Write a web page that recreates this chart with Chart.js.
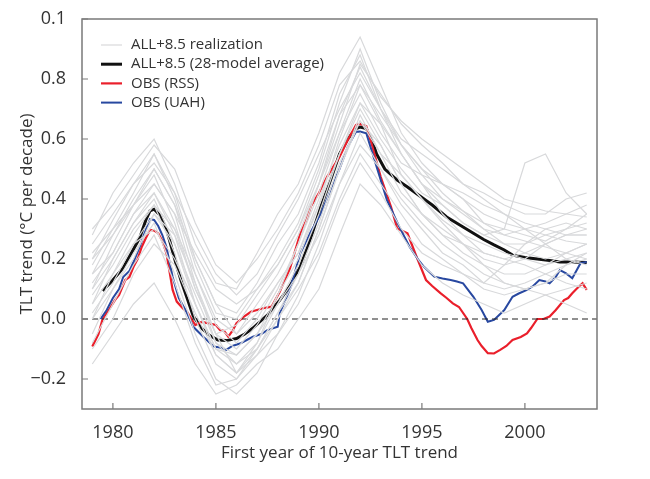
<!DOCTYPE html>
<html>
<head>
<meta charset="utf-8">
<script src="https://cdn.jsdelivr.net/npm/chart.js@4.4.1/dist/chart.umd.min.js"></script>
<style>
  html, body { margin: 0; padding: 0; background: #fff; }
  #wrap { width: 650px; height: 479px; }
</style>
</head>
<body>
<div id="wrap"><canvas id="chart-1" width="650" height="479"></canvas></div>
<script>
// Tick values and the labels printed beside them
const xTicks = [1980, 1985, 1990, 1995, 2000];
const yTicks = [-0.2, 0.0, 0.2, 0.4, 0.6, 0.8, 1.0];
const yTickLabels = ["\u22120.2", "0.0", "0.2", "0.4", "0.6", "0.8", "0.1"];

// ALL+8.5 28-model average
const avgYears = [1979.5, 1980.0, 1980.5, 1980.9, 1981.3, 1981.6, 1981.8, 1982.0, 1982.3, 1982.6, 1982.8, 1983.0, 1983.3, 1983.6, 1983.9, 1984.3, 1984.7, 1985.1, 1985.5, 1986.0, 1986.4, 1986.8, 1987.2, 1987.5, 1988.1, 1988.6, 1989.1, 1989.6, 1990.1, 1990.6, 1991.0, 1991.4, 1991.8, 1992.0, 1992.3, 1992.6, 1992.8, 1993.2, 1993.8, 1994.3, 1994.9, 1995.5, 1996.2, 1996.8, 1997.5, 1998.0, 1998.5, 1999.0, 1999.4, 2000.0, 2000.7, 2001.2, 2001.7, 2002.3, 2003.0];
const avgValues = [0.094, 0.13, 0.17, 0.22, 0.27, 0.33, 0.36, 0.366, 0.345, 0.30, 0.25, 0.20, 0.13, 0.07, 0.01, -0.03, -0.055, -0.07, -0.072, -0.065, -0.05, -0.03, -0.005, 0.013, 0.063, 0.11, 0.174, 0.27, 0.374, 0.47, 0.55, 0.60, 0.635, 0.64, 0.635, 0.59, 0.55, 0.50, 0.463, 0.44, 0.41, 0.38, 0.34, 0.315, 0.286, 0.265, 0.247, 0.23, 0.213, 0.205, 0.199, 0.195, 0.19, 0.19, 0.188];

// OBS (RSS)
const rssYears = [1979.0, 1979.3, 1979.5, 1979.8, 1980.1, 1980.3, 1980.6, 1980.8, 1981.0, 1981.2, 1981.4, 1981.6, 1981.8, 1982.0, 1982.2, 1982.4, 1982.6, 1982.9, 1983.1, 1983.4, 1983.6, 1984.0, 1984.3, 1984.6, 1985.0, 1985.2, 1985.4, 1985.6, 1985.8, 1986.0, 1986.4, 1986.7, 1987.0, 1987.3, 1987.7, 1988.1, 1988.6, 1989.1, 1989.4, 1989.6, 1990.0, 1990.4, 1990.7, 1991.0, 1991.4, 1991.8, 1992.0, 1992.3, 1992.6, 1993.0, 1993.5, 1993.8, 1994.3, 1994.5, 1994.8, 1995.2, 1995.5, 1995.9, 1996.2, 1996.5, 1996.8, 1997.2, 1997.4, 1997.7, 1997.9, 1998.2, 1998.5, 1998.8, 1999.1, 1999.4, 1999.8, 2000.1, 2000.3, 2000.6, 2000.9, 2001.2, 2001.5, 2001.9, 2002.1, 2002.3, 2002.5, 2002.8, 2003.0];
const rssValues = [-0.092, -0.05, 0.0, 0.03, 0.063, 0.08, 0.13, 0.14, 0.174, 0.20, 0.24, 0.27, 0.297, 0.295, 0.286, 0.26, 0.219, 0.097, 0.058, 0.035, 0.024, -0.02, -0.01, -0.014, -0.02, -0.037, -0.04, -0.059, -0.04, -0.014, 0.01, 0.024, 0.03, 0.036, 0.041, 0.091, 0.17, 0.286, 0.33, 0.374, 0.42, 0.474, 0.508, 0.54, 0.597, 0.647, 0.65, 0.643, 0.574, 0.474, 0.374, 0.302, 0.286, 0.25, 0.197, 0.13, 0.11, 0.086, 0.07, 0.052, 0.04, 0.0, -0.03, -0.07, -0.09, -0.114, -0.115, -0.103, -0.09, -0.07, -0.06, -0.048, -0.03, 0.0, 0.0, 0.008, 0.03, 0.063, 0.07, 0.086, 0.10, 0.119, 0.097];

// OBS (UAH)
const uahYears = [1979.4, 1979.7, 1980.0, 1980.3, 1980.5, 1980.8, 1981.0, 1981.3, 1981.5, 1981.8, 1982.0, 1982.2, 1982.4, 1982.6, 1982.9, 1983.2, 1983.6, 1983.9, 1984.4, 1984.9, 1985.2, 1985.5, 1985.8, 1986.2, 1986.5, 1986.8, 1987.2, 1987.5, 1988.0, 1988.1, 1988.6, 1989.1, 1989.6, 1990.1, 1990.7, 1991.0, 1991.4, 1991.8, 1992.0, 1992.3, 1992.8, 1993.3, 1993.9, 1994.4, 1994.8, 1995.1, 1995.6, 1996.0, 1996.4, 1996.7, 1997.0, 1997.5, 1997.9, 1998.2, 1998.5, 1998.7, 1999.0, 1999.4, 1999.7, 2000.1, 2000.4, 2000.7, 2001.0, 2001.2, 2001.5, 2001.7, 2002.0, 2002.3, 2002.7, 2003.0];
const uahValues = [0.0, 0.03, 0.07, 0.10, 0.14, 0.16, 0.19, 0.24, 0.28, 0.333, 0.33, 0.31, 0.28, 0.24, 0.14, 0.07, 0.02, -0.026, -0.06, -0.092, -0.095, -0.103, -0.09, -0.081, -0.07, -0.059, -0.05, -0.037, -0.026, 0.019, 0.10, 0.219, 0.29, 0.352, 0.452, 0.50, 0.574, 0.624, 0.625, 0.619, 0.508, 0.397, 0.308, 0.241, 0.20, 0.174, 0.141, 0.135, 0.13, 0.125, 0.119, 0.074, 0.03, -0.009, -0.003, 0.01, 0.03, 0.074, 0.085, 0.097, 0.11, 0.13, 0.125, 0.119, 0.14, 0.163, 0.152, 0.136, 0.186, 0.19];

// ALL+8.5 individual realizations (yearly)
const realizationYears = [1979, 1980, 1981, 1982, 1983, 1984, 1985, 1986, 1987, 1988, 1989, 1990, 1991, 1992, 1993, 1994, 1995, 1996, 1997, 1998, 1999, 2000, 2001, 2002, 2003];
const realizations = [
  [0.28, 0.42, 0.52, 0.60, 0.45, 0.25, 0.12, 0.10, 0.22, 0.35, 0.45, 0.62, 0.82, 0.94, 0.78, 0.62, 0.52, 0.45, 0.40, 0.35, 0.32, 0.30, 0.28, 0.26, 0.25],
  [0.20, 0.33, 0.45, 0.55, 0.40, 0.18, 0.02, 0.00, 0.10, 0.20, 0.32, 0.50, 0.72, 0.90, 0.72, 0.58, 0.50, 0.42, 0.36, 0.30, 0.28, 0.30, 0.32, 0.35, 0.38],
  [0.10, 0.25, 0.38, 0.48, 0.32, 0.10, -0.05, -0.10, -0.02, 0.10, 0.25, 0.42, 0.62, 0.80, 0.66, 0.55, 0.45, 0.40, 0.35, 0.30, 0.25, 0.22, 0.20, 0.22, 0.25],
  [0.05, 0.20, 0.32, 0.42, 0.28, 0.05, -0.10, -0.15, -0.08, 0.05, 0.18, 0.35, 0.55, 0.72, 0.60, 0.50, 0.42, 0.38, 0.32, 0.28, 0.30, 0.52, 0.55, 0.42, 0.35],
  [0.00, 0.15, 0.28, 0.38, 0.22, 0.00, -0.15, -0.20, -0.12, 0.00, 0.12, 0.30, 0.50, 0.68, 0.55, 0.42, 0.35, 0.28, 0.22, 0.18, 0.15, 0.15, 0.18, 0.20, 0.22],
  [-0.05, 0.10, 0.22, 0.32, 0.15, -0.05, -0.20, -0.25, -0.18, -0.05, 0.08, 0.25, 0.45, 0.62, 0.50, 0.38, 0.30, 0.22, 0.18, 0.12, 0.10, 0.12, 0.15, 0.18, 0.20],
  [-0.15, -0.05, 0.05, 0.12, 0.00, -0.15, -0.25, -0.22, -0.15, -0.10, 0.00, 0.10, 0.28, 0.45, 0.38, 0.28, 0.18, 0.12, 0.08, 0.05, 0.02, 0.05, 0.08, 0.05, 0.02],
  [0.15, 0.28, 0.40, 0.50, 0.38, 0.15, 0.00, -0.05, 0.05, 0.15, 0.28, 0.45, 0.65, 0.85, 0.75, 0.65, 0.58, 0.52, 0.45, 0.40, 0.35, 0.30, 0.25, 0.20, 0.18],
  [0.25, 0.35, 0.45, 0.52, 0.42, 0.28, 0.15, 0.08, 0.15, 0.28, 0.40, 0.55, 0.70, 0.82, 0.70, 0.60, 0.55, 0.50, 0.45, 0.42, 0.38, 0.35, 0.35, 0.40, 0.42],
  [0.08, 0.18, 0.30, 0.38, 0.30, 0.15, -0.02, -0.08, 0.00, 0.12, 0.22, 0.38, 0.55, 0.70, 0.58, 0.45, 0.35, 0.30, 0.25, 0.20, 0.18, 0.20, 0.25, 0.28, 0.30],
  [0.12, 0.22, 0.35, 0.45, 0.35, 0.12, -0.08, -0.12, -0.05, 0.08, 0.20, 0.38, 0.60, 0.78, 0.65, 0.48, 0.40, 0.33, 0.28, 0.22, 0.20, 0.18, 0.15, 0.12, 0.10],
  [-0.10, 0.00, 0.15, 0.25, 0.18, 0.02, -0.12, -0.18, -0.10, 0.00, 0.10, 0.22, 0.40, 0.55, 0.45, 0.35, 0.25, 0.20, 0.15, 0.10, 0.08, 0.10, 0.12, 0.15, 0.15],
  [0.18, 0.30, 0.42, 0.55, 0.42, 0.20, 0.05, 0.02, 0.12, 0.25, 0.35, 0.52, 0.75, 0.88, 0.70, 0.55, 0.45, 0.38, 0.32, 0.28, 0.25, 0.25, 0.28, 0.30, 0.32],
  [0.02, 0.12, 0.25, 0.35, 0.25, 0.08, -0.08, -0.15, -0.10, 0.02, 0.15, 0.32, 0.52, 0.66, 0.55, 0.48, 0.40, 0.32, 0.25, 0.18, 0.12, 0.10, 0.12, 0.18, 0.22],
  [0.22, 0.30, 0.38, 0.45, 0.35, 0.22, 0.10, 0.05, 0.10, 0.18, 0.30, 0.48, 0.68, 0.78, 0.68, 0.58, 0.50, 0.45, 0.42, 0.38, 0.35, 0.32, 0.30, 0.28, 0.28],
  [0.05, 0.15, 0.25, 0.30, 0.20, 0.05, -0.10, -0.12, -0.05, 0.05, 0.15, 0.28, 0.45, 0.58, 0.50, 0.40, 0.32, 0.25, 0.20, 0.15, 0.12, 0.10, 0.08, 0.10, 0.12],
  [0.30, 0.38, 0.48, 0.58, 0.50, 0.32, 0.18, 0.12, 0.20, 0.30, 0.42, 0.58, 0.78, 0.86, 0.74, 0.66, 0.60, 0.55, 0.50, 0.45, 0.40, 0.38, 0.36, 0.35, 0.34],
  [-0.08, 0.05, 0.18, 0.28, 0.12, -0.08, -0.22, -0.20, -0.10, 0.02, 0.12, 0.30, 0.50, 0.66, 0.58, 0.45, 0.35, 0.28, 0.25, 0.22, 0.20, 0.22, 0.25, 0.28, 0.28],
  [0.15, 0.22, 0.35, 0.42, 0.30, 0.10, -0.05, -0.02, 0.08, 0.18, 0.30, 0.45, 0.62, 0.75, 0.62, 0.52, 0.48, 0.45, 0.40, 0.32, 0.28, 0.26, 0.24, 0.22, 0.20],
  [0.00, 0.10, 0.20, 0.35, 0.28, 0.12, -0.05, -0.18, -0.12, -0.05, 0.05, 0.20, 0.38, 0.52, 0.42, 0.30, 0.22, 0.18, 0.15, 0.12, 0.18, 0.25, 0.30, 0.32, 0.30],
  [0.10, 0.20, 0.32, 0.40, 0.25, 0.05, -0.12, -0.18, -0.08, 0.08, 0.25, 0.45, 0.68, 0.84, 0.70, 0.58, 0.48, 0.40, 0.36, 0.32, 0.30, 0.28, 0.26, 0.30, 0.35],
  [0.20, 0.28, 0.38, 0.50, 0.38, 0.20, 0.05, -0.05, 0.02, 0.12, 0.22, 0.40, 0.58, 0.72, 0.65, 0.55, 0.45, 0.35, 0.28, 0.25, 0.22, 0.20, 0.18, 0.22, 0.25]
];

const xMin = 1978.5;
const xMax = 2003.5;
const yMin = -0.3;
const yMax = 1.0;

const pts = (xs, ys) => xs.map((x, i) => ({ x: x, y: ys[i] }));

const datasets = [];
realizations.forEach((vals, i) => {
  datasets.push({
    label: i === 0 ? "ALL+8.5 realization" : "",
    data: pts(realizationYears, vals),
    borderColor: "#d8d9db",
    borderWidth: 1.2,
  });
});
datasets.push({
  label: "zero",
  data: [{ x: xMin, y: 0 }, { x: xMax, y: 0 }],
  borderColor: "#222",
  borderWidth: 1.2,
  borderDash: [6, 4],
});
datasets.push({
  label: "OBS (UAH)",
  data: pts(uahYears, uahValues),
  borderColor: "#2848a0",
  borderWidth: 2,
});
datasets.push({
  label: "OBS (RSS)",
  data: pts(rssYears, rssValues),
  borderColor: "#ea1f2b",
  borderWidth: 2.2,
});
datasets.push({
  label: "ALL+8.5 (28-model average)",
  data: pts(avgYears, avgValues),
  borderColor: "#111",
  borderWidth: 3,
});

const legendOrder = ["ALL+8.5 realization", "ALL+8.5 (28-model average)", "OBS (RSS)", "OBS (UAH)"];

// frame, inward ticks and in-plot legend
const framePlugin = {
  id: "frame",
  afterDraw(chart) {
    const { ctx, chartArea: a, scales } = chart;
    ctx.save();
    ctx.strokeStyle = "#7a7a7a";
    ctx.lineWidth = 1.5;
    ctx.strokeRect(a.left, a.top, a.right - a.left, a.bottom - a.top);
    ctx.lineWidth = 1.2;
    ctx.beginPath();
    xTicks.forEach((v) => {
      const px = scales.x.getPixelForValue(v);
      ctx.moveTo(px, a.bottom);
      ctx.lineTo(px, a.bottom - 6);
    });
    yTicks.forEach((v) => {
      const py = scales.y.getPixelForValue(v);
      ctx.moveTo(a.left, py);
      ctx.lineTo(a.left + 6, py);
    });
    ctx.stroke();

    ctx.font = "15px 'Open Sans'";
    ctx.textBaseline = "middle";
    ctx.fillStyle = "#333";
    legendOrder.forEach((name, i) => {
      const ds = chart.data.datasets.find((d) => d.label === name);
      const y = 45 + i * 19.2;
      ctx.strokeStyle = ds.borderColor;
      ctx.lineWidth = ds.borderWidth;
      ctx.beginPath();
      ctx.moveTo(101, y);
      ctx.lineTo(122, y);
      ctx.stroke();
      ctx.fillText(name, 131, y);
    });
    ctx.restore();
  },
};

const ctx = document.getElementById("chart-1").getContext("2d");
const myChart = new Chart(ctx, {
  type: "line",
  data: { datasets: datasets },
  options: {
    responsive: false,
    animation: false,
    events: [],
    layout: { padding: { left: 0, top: 19, right: 53, bottom: 0 } },
    elements: {
      point: { radius: 0 },
      line: { tension: 0, fill: false },
    },
    plugins: {
      legend: { display: false },
      tooltip: { enabled: false },
    },
    scales: {
      x: {
        type: "linear",
        min: xMin,
        max: xMax,
        afterBuildTicks: (scale) => {
          scale.ticks = xTicks.map((v) => ({ value: v }));
        },
        afterFit: (scale) => {
          scale.height = 70;
        },
        grid: { display: false },
        border: { display: false },
        ticks: {
          color: "#333",
          padding: 5,
          font: { family: "'Open Sans'", size: 18 },
          callback: (v) => String(v),
        },
        title: {
          display: true,
          text: "First year of 10-year TLT trend",
          color: "#333",
          font: { family: "'Open Sans'", size: 17 },
          padding: { top: 0, bottom: 16 },
        },
      },
      y: {
        min: yMin,
        max: yMax,
        afterBuildTicks: (scale) => {
          scale.ticks = yTicks.map((v) => ({ value: v }));
        },
        afterFit: (scale) => {
          scale.width = 82;
        },
        grid: { display: false },
        border: { display: false },
        ticks: {
          color: "#333",
          padding: 8,
          font: { family: "'Open Sans'", size: 18 },
          callback: (v) => {
            const i = yTicks.findIndex((t) => Math.abs(t - v) < 1e-6);
            return i >= 0 ? yTickLabels[i] : "";
          },
        },
        title: {
          display: true,
          text: "TLT trend (\u00b0C per decade)",
          color: "#333",
          font: { family: "'Open Sans'", size: 17 },
          padding: { top: 17, bottom: 0 },
        },
      },
    },
  },
  plugins: [framePlugin],
});
</script>
</body>
</html>
